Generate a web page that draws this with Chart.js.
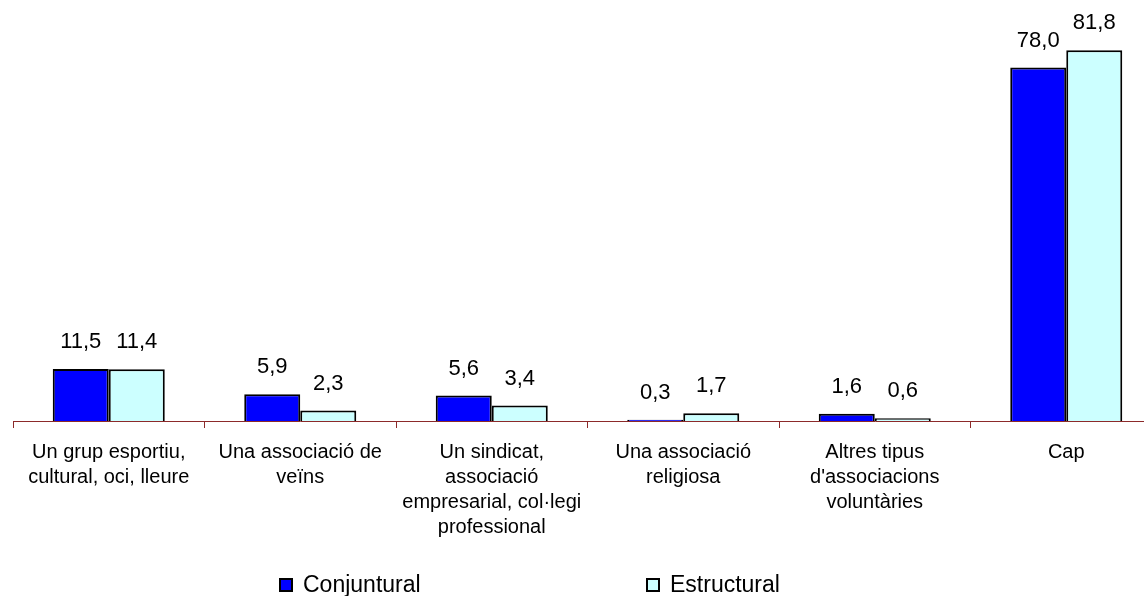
<!DOCTYPE html>
<html>
<head>
<meta charset="utf-8">
<script src="https://cdn.jsdelivr.net/npm/chart.js@4/dist/chart.umd.min.js"></script>
<style>
  html, body { margin: 0; padding: 0; background: #fff; overflow: hidden; }
  #wrap { width: 1144px; height: 596px; overflow: hidden; }
  canvas { display: block; }
</style>
</head>
<body>
<div id="wrap"><canvas id="chart" width="1163" height="596"></canvas></div>
<script>
// categories (multi-line tick labels)
const categories = [
    ['Un grup esportiu,', 'cultural, oci, lleure'],
    ['Una associació de', 'veïns'],
    ['Un sindicat,', 'associació', 'empresarial, col·legi', 'professional'],
    ['Una associació', 'religiosa'],
    ['Altres tipus', "d'associacions", 'voluntàries'],
    ['Cap']
];
const seriesNames = ['Conjuntural', 'Estructural'];
const conjuntural = [11.5, 5.9, 5.6, 0.3, 1.6, 78.0];
const estructural = [11.4, 2.3, 3.4, 1.7, 0.6, 81.8];

const FONT = '"Liberation Sans", Arial, sans-serif';
const AXIS_RED = '#8c2a2a';

// etiquetes de valor sobre les barres
const valueLabels = {
    id: 'valueLabels',
    afterDatasetsDraw(chart) {
        const ctx = chart.ctx;
        ctx.save();
        ctx.font = '22px ' + FONT;
        ctx.fillStyle = '#000';
        ctx.textAlign = 'center';
        ctx.textBaseline = 'alphabetic';
        chart.data.datasets.forEach((ds, i) => {
            chart.getDatasetMeta(i).data.forEach((bar, j) => {
                const txt = ds.data[j].toFixed(1).replace('.', ',');
                ctx.fillText(txt, bar.x, bar.y - 21);
            });
        });
        ctx.restore();
    }
};

// llegenda a mida (com a l'Excel)
const bottomLegend = {
    id: 'bottomLegend',
    afterDraw(chart, args, opts) {
        const ctx = chart.ctx;
        ctx.save();
        ctx.font = '23px ' + FONT;
        ctx.textBaseline = 'alphabetic';
        ctx.textAlign = 'left';
        chart.data.datasets.forEach((ds, i) => {
            const x = opts.xs[i];
            ctx.fillStyle = ds.backgroundColor;
            ctx.fillRect(x, opts.y - 6, 12, 12);
            ctx.lineWidth = 2;
            ctx.strokeStyle = '#000';
            ctx.strokeRect(x, opts.y - 6, 12, 12);
            ctx.fillStyle = '#000';
            ctx.fillText(ds.label, x + 23, opts.y + 7);
        });
        ctx.restore();
    }
};

const ctx = document.getElementById('chart').getContext('2d');
new Chart(ctx, {
    type: 'bar',
    data: {
        labels: categories,
        datasets: [{
            label: seriesNames[0],
            data: conjuntural,
            backgroundColor: '#0000ff',
            borderColor: '#000',
            borderWidth: 2,
            borderSkipped: 'bottom'
        }, {
            label: seriesNames[1],
            data: estructural,
            backgroundColor: '#ccffff',
            borderColor: '#000',
            borderWidth: 2,
            borderSkipped: 'bottom'
        }]
    },
    options: {
        responsive: false,
        animation: false,
        devicePixelRatio: 1,
        categoryPercentage: 0.585,
        barPercentage: 1,
        layout: { padding: { left: 13, right: 1, top: 10, bottom: 44 } },
        plugins: {
            legend: { display: false },
            tooltip: { enabled: false },
            bottomLegend: { xs: [280, 647], y: 585 }
        },
        scales: {
            x: {
                offset: true,
                grid: {
                    offset: true,
                    drawOnChartArea: false,
                    drawTicks: true,
                    tickLength: 7,
                    color: AXIS_RED,
                    lineWidth: 1
                },
                border: { display: true, color: AXIS_RED, width: 1 },
                ticks: {
                    color: '#000',
                    padding: 12,
                    maxRotation: 0,
                    autoSkip: false,
                    font: { family: FONT, size: 20, lineHeight: 25 / 20 }
                }
            },
            y: {
                display: false,
                min: 0,
                max: 90.7
            }
        }
    },
    plugins: [valueLabels, bottomLegend]
});
</script>
</body>
</html>
